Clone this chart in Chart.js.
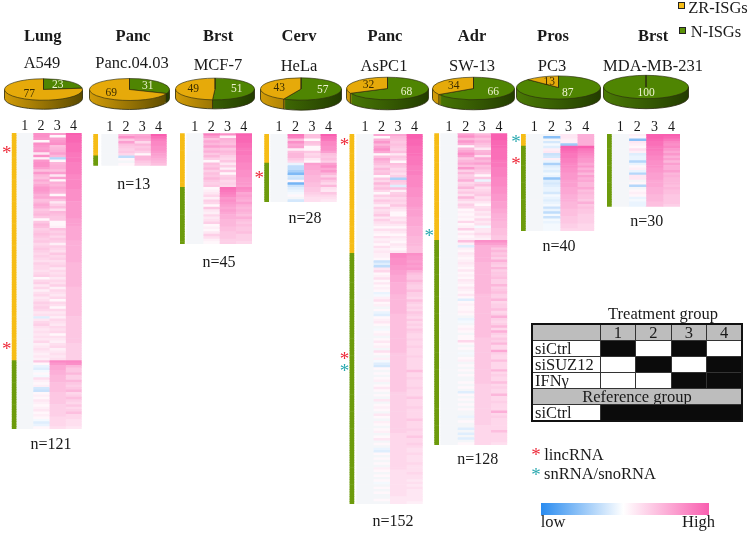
<!DOCTYPE html>
<html>
<head>
<meta charset="utf-8">
<title>ISG heatmaps</title>
<script src="https://cdn.jsdelivr.net/npm/chart.js@4"></script>
<style>
    html, body { margin: 0; padding: 0; background: #fff; }
    #page { position: relative; width: 750px; height: 533px; overflow: hidden; font-family: "Liberation Serif", serif; color: #1a1a1a; filter: blur(0.35px); }
    #page canvas { position: absolute; }
    .txt { position: absolute; white-space: nowrap; transform: translate(-50%, -50%); line-height: 1; }
    .swatch { position: absolute; width: 5px; height: 5px; border: 1px solid #222; }
    table { position: absolute; left: 531px; top: 323px; width: 212px; border-collapse: collapse; table-layout: fixed; font-size: 16.5px; line-height: 15px; border: 2px solid #111; }
    td { border: 1px solid #333; height: 15px; padding: 0 0 0 2px; overflow: hidden; white-space: nowrap; }
    .g { background: #bdbdbd; text-align: center; padding: 0; }
    .k { background: #0b0b0b; }
    .w { background: #fff; }
    #colorbar { position: absolute; left: 541px; top: 503px; width: 168px; height: 12px; background: linear-gradient(to right, #2a8cf0, #ffffff 49%, #f95fb0); }
</style>
</head>
<body>
<div id="page">
    <table>
        <colgroup><col style="width:68px"><col><col><col><col></colgroup>
        <tr><td class="g"></td><td class="g">1</td><td class="g">2</td><td class="g">3</td><td class="g">4</td></tr>
        <tr><td class="w">siCtrl</td><td class="k"></td><td class="w"></td><td class="k"></td><td class="w"></td></tr>
        <tr><td class="w">siSUZ12</td><td class="w"></td><td class="k"></td><td class="w"></td><td class="k"></td></tr>
        <tr><td class="w">IFNγ</td><td class="w"></td><td class="w"></td><td class="k"></td><td class="k"></td></tr>
        <tr><td class="g" colspan="5">Reference group</td></tr>
        <tr><td class="w">siCtrl</td><td class="k" colspan="4"></td></tr>
    </table>
    <div id="colorbar"></div>
</div>
<script>
const tissues = ["Lung", "Panc", "Brst", "Cerv", "Panc", "Adr", "Pros", "Brst"]
const cellLines = ["A549", "Panc.04.03", "MCF-7", "HeLa", "AsPC1", "SW-13", "PC3", "MDA-MB-231"]
const zrPct = [77, 69, 49, 43, 32, 34, 13, 0]
const nPct = [23, 31, 51, 57, 68, 66, 87, 100]
const geneCounts = [121, 13, 45, 28, 152, 128, 40, 30]
const zrCounts = [93, 9, 22, 12, 49, 44, 5, 0]
const colLabels = ["1", "2", "3", "4"]

// row numbers of the starred genes
const lincRows = [[7, 87], [], [], [17], [3, 91], [], [11], []]
const snoRows = [[], [], [], [], [96], [41], [2], []]

// heat values, -20 full blue .. 20 full pink, read row by row
const lung2 = [
    14,14,13,1,14,13,12,13,3,14, 2,13,14,14,12,8,13,9,8,11,
    9,11,13,13,12,10,11,8,9,11, 10,7,8,9,7,1,7,9,8,6,
    7,8,7,6,7,5,6,7,6,5, 6,5,4,6,5,5,4,5,6,1,
    5,6,3,5,2,4,5,3,4,6, 5,6,5,3,4,-3,3,5,6,4,
    3,4,3,4,3,5,2,3,4,3, 2,3,2,
    7,1,-2,-3,-1,1,-1,4,2,1, 2,-4,-5,1,2,1,3,2,1,2, 3,1,2,1,-1,-3,-2,1]
const lung3 = [
    12,1,12,13,14,8,9,10,12,9, -7,1,9,10,10,8,12,3,12,1,
    10,9,11,10,9,1,11,8,3,6, 8,4,9,8,7,7,1,1,2,8,
    6,7,5,7,6,2,6,5,4,7, 5,6,4,5,6,3,5,4,5,3,
    5,4,6,2,5,4,3,5,1,5, 4,1,5,3,4,2,5,4,3,5,
    4,5,1,4,3,2,4,5,2,3, 4,3,4,
    15,13,11,11,10,10,9,9,9,8, 8,8,8,7,7,7,7,7,6,6, 6,6,6,5,5,5,5,4]
const lung4 = [
    20,19,19,19,18,18,18,18,17,17, 17,17,16,16,16,16,16,15,15,15,
    15,15,15,14,14,14,14,14,13,13, 13,13,13,13,13,12,12,12,11,11,
    11,11,11,11,10,10,10,10,10,10, 10,10,10,9,9,9,9,9,9,9,
    9,9,9,8,8,8,8,8,8,8, 8,8,8,8,8,7,7,7,7,7,
    7,7,7,7,7,7,6,6,6,6, 6,6,6,
    15,14,9,7,7,9,6,6,9,7, 6,7,9,5,6,8,6,5,7,5, 6,8,5,5,4,4,4,3]

const panc2 = [10,14,7,12,8,7,6,7,5, -6,1,0,1]
const panc3 = [11,12,10,5,9,7,8,6,1, 9,9,7,6]
const panc4 = [20,18,16,15,15,14,14,13,12, 11,10,9,8]

const mcf2 = [
    16,12,8,11,9,12,8,10,7,9, 6,1,8,7,9,6,8,7,9,7, 6,7,
    1,2,3,5,2,6,5,1,7,3, 2,5,3,4,6,1,2,1,3,6, 4,2,1]
const mcf3 = [
    14,2,10,9,8,11,7,9,8,6, 5,7,3,6,2,7,1,6,7,5, 6,5,
    18,17,16,15,13,14,13,12,11,12, 11,10,10,9,9,9,8,8,7,7, 7,6,6]
const mcf4 = [
    20,19,19,19,18,18,17,17,17,16, 16,16,15,15,15,14,14,14,13,13, 13,12,
    15,14,11,12,11,10,12,10,9,10, 9,8,10,8,7,8,7,7,8,6, 6,6,5]

const hela2 = [17,16,8,14,11,12,2,8,9,9,7,5, -2,-6,-6,-8,-12,-4,-5,1,-13,-5,-3,-2,-1,1,0,-4]
const hela3 = [8,8,1,8,7,1,1,7,5,6,3,1, 12,11,11,10,10,9,9,9,8,8,7,7,6,5,4,4]
const hela4 = [20,18,17,15,15,14,14,12,8,7,8,6, 12,14,11,13,9,6,10,7,5,9,4,3,7,5,4,3]

const aspc2 = [
    11,1,10,13,9,12,14,11,1,8, 11,9,8,6,9,7,8,1,7,5,
    9,6,8,5,1,6,4,7,5,2, 6,4,5,7,3,6,4,3,1,4, 2,1,4,2,3,1,4,2,3,
    2,2,1,-5,-3,-6,3,5,1,2, 4,1,3,1,2,1,-2,-1,2,4,
    1,2,0,1,-2,-3,1,2,3,1, 0,-1,1,2,0,1,3,1,2,0,
    4,1,0,2,-1,-3,-4,1,0,1, 0,1,2,0,1,3,1,0,1,0,
    3,0,1,2,1,0,3,1,0,2, 1,0,1,2,0,1,3,0,1,0,
    -2,-3,1,0,1,0,1,0,2,1, 0,1,0,1,-1,0,1,0,1,0, 0,1,0]
const aspc3 = [
    11,9,8,7,8,7,6,8,3,7, 6,1,8,7,5,6,4,6,-8,7,
    6,-3,8,2,6,7,5,6,5,7, 4,3,1,1,4,3,5,3,1,4, 3,1,3,2,1,3,2,1,3,
    15,15,14,14,14,13,13,12,12,11, 11,11,10,10,10,10,10,9,9,9,
    9,9,9,9,9,8,8,8,8,8, 8,8,8,8,8,8,8,8,8,8,
    8,7,7,7,7,7,7,7,7,7, 7,7,7,7,7,7,7,6,6,6,
    6,6,6,6,6,6,6,6,6,6, 6,6,6,6,5,5,5,5,5,5,
    5,5,5,5,5,5,5,5,5,4, 4,4,4,4,4,4,4,4,4,4, 3,3,3]
const aspc4 = [
    20,20,19,19,19,18,18,18,18,17, 17,17,17,16,16,16,16,15,15,15,
    15,15,14,14,14,14,13,13,13,13, 12,12,12,12,11,11,11,11,10,10, 10,10,9,9,9,9,8,8,8,
    14,13,13,12,13,12,13,10,8,7, 7,9,7,6,6,8,6,6,5,8,
    6,5,6,5,7,6,5,7,5,6, 5,7,6,5,5,6,5,5,6,5,
    5,5,6,5,5,5,5,5,8,5, 5,6,5,5,5,6,5,5,5,7,
    5,5,5,6,5,5,5,5,7,5, 5,5,6,5,5,7,5,5,6,5,
    4,4,5,4,4,4,5,4,4,4, 5,4,4,3,4,3,4,3,3,3, 3,3,2]

const sw2 = [
    12,14,9,13,10,1,9,11,14,12, 7,9,11,8,13,6,9,6,7,10,
    5,6,9,5,7,4,9,5,3,6, 5,1,2,1,2,1,5,1,2,6, 1,3,1,2,
    8,2,-3,2,1,3,2,1,2,3, 2,1,3,1,2,1,3,2,1,3,
    2,1,3,1,-3,1,2,1,1,2, 1,0,-2,-1,0,1,2,1,0,1,
    1,5,1,0,1,0,-1,0,1,2, 0,1,0,1,0,1,0,0,1,0,
    1,0,-3,1,0,1,0,1,0,1, 0,0,-2,0,1,0,0,-3,0,-3, 0,-3,0,1]
const sw3 = [
    9,11,8,10,8,7,3,9,10,4, 11,9,12,8,9,7,6,1,7,-2,
    6,8,4,5,6,7,4,5,3,1, 4,5,3,4,2,5,3,4,-1,3, 3,5,3,2,
    14,12,10,10,10,10,10,10,10,9, 9,9,9,9,9,9,9,9,9,9,
    9,9,8,8,8,8,8,8,8,8, 8,8,8,8,8,8,8,8,8,8,
    7,7,7,7,7,7,7,7,7,7, 7,7,7,7,7,7,7,7,7,6,
    6,6,6,6,6,6,6,6,6,6, 6,6,6,6,6,6,5,5,5,5, 5,5,5,5]
const sw4 = [
    20,20,20,19,19,19,18,18,18,18, 18,17,17,17,16,16,16,16,15,15,
    15,15,14,14,14,13,13,13,12,12, 12,11,11,10,10,10,9,9,9,8, 8,8,7,7,
    14,12,10,7,9,7,8,6,10,7, 6,9,6,7,7,8,6,6,9,6,
    7,8,6,6,9,5,6,6,8,5, 6,10,6,5,6,9,5,10,6,5,
    7,6,9,5,5,11,6,5,5,8, 5,5,5,9,5,6,5,5,8,5,
    6,5,5,9,5,5,6,5,5,5, 10,5,6,5,5,5,5,5,8,5, 5,5,5,4]

const pc2 = [
    0,-11,0,-4,-1,
    -3,2,3,-5,-4,2,-2,-8,-3,-2, -3,-1,-2,-10,-3,-4,-3,-2,-2,-4,
    -1,-2,-3,-2,-1,-5,-2,-6,-1,-5, -1,-2,-1,-1,-1]
const pc3 = [
    3,3,2,2,-9,
    20,19,18,17,17,16,16,15,15,14, 14,13,13,13,12,12,12,11,11,11,
    10,10,10,9,9,9,8,8,8,7, 7,7,6,6,5]
const pc4 = [
    10,10,10,10,10,
    20,17,16,15,14,13,13,11,13,10, 12,9,12,10,11,9,9,11,8,9,
    8,8,7,10,7,8,7,7,6,6, 6,6,5,5,5]

const mda2 = [2,1,-11,3,2,1,4,2,-3,-2, -2,-7,-2,1,2,-2,-7,3,3,0, 1,-7,0,1,2,1,-2,-1,-2,-2]
const mda3 = [20,20,19,18,18,17,17,16,16,15, 15,14,14,14,13,13,12,12,12,11, 11,11,10,10,10,9,9,9,8,8]
const mda4 = [20,19,17,15,14,15,13,11,13,10, 12,9,12,10,10,12,9,10,9,9, 9,8,9,8,8,7,7,7,7,6]

const heatCols = [
    [lung2, lung3, lung4], [panc2, panc3, panc4], [mcf2, mcf3, mcf4], [hela2, hela3, hela4],
    [aspc2, aspc3, aspc4], [sw2, sw3, sw4], [pc2, pc3, pc4], [mda2, mda3, mda4]
]

// layout, px on the page
const pieCx = [43.5, 129.5, 215, 301, 387, 473, 558.5, 646]
const pieCy = [89, 89, 89, 88.5, 88, 88, 87, 87]
const pieR = [38.5, 39.5, 39, 40, 40.5, 40.5, 41.5, 42]
const pieDepth = [9, 9, 9, 10, 10, 10, 10, 10]
const pieSquash = 0.275
const tissueX = [42.7, 133, 218, 299, 385, 472, 553, 653]
const lineX = [42, 132, 218, 299, 384, 472, 552, 653]
const lineY = [63, 63, 65, 66, 66, 66, 66, 66]
const countX = [51, 133.7, 219, 305, 393, 477.7, 559, 646.7]
const countY = [444, 183.7, 262, 218, 520.7, 459, 245.7, 221]
const sideLeft = [11.7, 93.3, 180, 264.3, 349.5, 434.3, 521, 607]
const heatLeft = [16.7, 101.7, 186.7, 270.7, 356.7, 440.7, 525.7, 611.7]
const heatRight = [81.7, 166.7, 252, 336.7, 422.7, 507.3, 594.3, 680]
const heatTop = [133, 134, 133.3, 134, 134, 133.3, 134, 134]
const heatBottom = [429, 165.7, 244, 202, 504, 445, 231, 206.7]
const sideWidth = 4.4

const YELLOW = "#e6aa0a"
const GREEN = "#4f8502"
const SIDE_YELLOW = "#f6bd16"
const SIDE_GREEN = "#6d9b0c"
const RED_STAR = "#ee2a3a"
const TEAL_STAR = "#2aa9b0"
const BASE_CELL = "#f4f6f9"

const page = document.getElementById("page")

const addText = (text, x, y, size, opts = {}) => {
    const el = document.createElement("div")
    el.className = "txt"
    el.textContent = text
    el.style.left = x + "px"
    el.style.top = y + "px"
    el.style.fontSize = size + "px"
    if (opts.bold) el.style.fontWeight = "bold"
    if (opts.color) el.style.color = opts.color
    page.appendChild(el)
}

const addCanvas = (left, top, w, h) => {
    const c = document.createElement("canvas")
    c.width = w
    c.height = h
    c.style.left = left + "px"
    c.style.top = top + "px"
    c.style.width = w + "px"
    c.style.height = h + "px"
    page.appendChild(c)
    return c
}

// -20..20 to a colour: blue, white, pink
const heatColor = (s) => {
    if (s === 0) return BASE_CELL
    const t = Math.min(Math.abs(s) / 20, 1)
    const end = s > 0 ? [249, 95, 176] : [42, 140, 240]
    const c = end.map(v => Math.round(255 + (v - 255) * t))
    return `rgb(${c[0]},${c[1]},${c[2]})`
}

// flattened 3d look: squash the pie and draw a rim under it
const piePlugin = {
    id: "pie3d",
    beforeDatasetsDraw(chart, args, opts) {
        const ctx = chart.ctx
        const arcs = chart.getDatasetMeta(0).data
        const { x: cx, y: cy, outerRadius: R } = arcs[0]
        const k = opts.squash
        const rim = (dark, light) => {
            const g = ctx.createLinearGradient(-R, 0, R, 0)
            g.addColorStop(0, light)
            g.addColorStop(1, dark)
            return g
        }
        for (let d = opts.depth; d >= 1; d--) {
            arcs.forEach((arc, i) => {
                if (arc.endAngle - arc.startAngle <= 0) return
                ctx.save()
                ctx.translate(cx, cy + d)
                ctx.scale(1, k)
                ctx.fillStyle = i == 0 ? rim("#233d00", "#4a7a05") : rim("#5a4a00", "#d39c08")
                ctx.beginPath()
                ctx.moveTo(0, 0)
                ctx.arc(0, 0, R, arc.startAngle, arc.endAngle)
                ctx.closePath()
                ctx.fill()
                ctx.restore()
            })
        }
        // rim outline
        ctx.save()
        ctx.strokeStyle = "#2b2b10"
        ctx.lineWidth = 0.8
        ctx.beginPath()
        ctx.ellipse(cx, cy + opts.depth, R, R * k, 0, 0, Math.PI)
        ctx.moveTo(cx - R, cy)
        ctx.lineTo(cx - R, cy + opts.depth)
        ctx.moveTo(cx + R, cy)
        ctx.lineTo(cx + R, cy + opts.depth)
        arcs.forEach(arc => {
            const s = Math.sin(arc.endAngle)
            if (s > 0 && arc.endAngle - arc.startAngle > 0 && arc.endAngle < 1.4 * Math.PI) {
                const x = cx + R * Math.cos(arc.endAngle)
                const y = cy + R * k * s
                ctx.moveTo(x, y)
                ctx.lineTo(x, y + opts.depth)
            }
        })
        ctx.stroke()
        ctx.restore()

        ctx.save()
        ctx.translate(cx, cy)
        ctx.scale(1, k)
        ctx.translate(-cx, -cy)
    },
    afterDatasetsDraw(chart, args, opts) {
        const ctx = chart.ctx
        ctx.restore()
        const arcs = chart.getDatasetMeta(0).data
        const { x: cx, y: cy, outerRadius: R } = arcs[0]
        const k = opts.squash
        ctx.save()
        ctx.strokeStyle = "#2b2b10"
        ctx.lineWidth = 0.8
        ctx.beginPath()
        ctx.moveTo(cx, cy)
        ctx.lineTo(cx, cy - R * k)
        ctx.stroke()
        ctx.font = '11.5px "Liberation Serif"'
        ctx.textAlign = "center"
        ctx.textBaseline = "middle"
        const values = chart.data.datasets[0].data
        arcs.forEach((arc, i) => {
            if (values[i] == 0) return
            const mid = (arc.startAngle + arc.endAngle) / 2
            ctx.fillStyle = i == 0 ? "#eef3d2" : "#3a2c00"
            ctx.fillText(values[i], cx + 0.55 * R * Math.cos(mid), cy + 0.55 * R * k * Math.sin(mid))
        })
        ctx.restore()
    }
}

const starPlugin = {
    id: "stars",
    afterDatasetsDraw(chart, args, opts) {
        const ctx = chart.ctx
        const y = chart.scales.y
        ctx.save()
        ctx.font = '19px "Liberation Serif"'
        ctx.textAlign = "center"
        ctx.textBaseline = "middle"
        const draw = (rows, color) => rows.forEach(r => {
            ctx.fillStyle = color
            ctx.fillText("*", opts.x, y.getPixelForValue(r) + 3)
        })
        draw(opts.linc, RED_STAR)
        draw(opts.sno, TEAL_STAR)
        ctx.restore()
    }
}

const addPie = (i) => {
    const R = pieR[i]
    const size = Math.ceil(2 * R) + 2
    const left = Math.round(pieCx[i] - size / 2)
    const top = Math.round(pieCy[i] - size / 2)
    new Chart(addCanvas(left, top, size, size), {
        type: "pie",
        data: {
            labels: ["N-ISGs", "ZR-ISGs"],
            datasets: [{
                data: [nPct[i], zrPct[i]],
                backgroundColor: [GREEN, YELLOW],
                borderColor: "#2b2b10",
                borderWidth: 1
            }]
        },
        options: {
            responsive: false,
            animation: false,
            plugins: {
                legend: { display: false },
                tooltip: { enabled: false },
                pie3d: { squash: pieSquash, depth: pieDepth[i] }
            }
        },
        plugins: [piePlugin]
    })
}

const addHeatmap = (i) => {
    const cols = heatCols[i]
    const rows = geneCounts[i]
    const zr = zrCounts[i]
    const labels = Array.from(Array(rows).keys())

    const left = Math.floor(sideLeft[i]) - 12
    const right = Math.ceil(heatRight[i]) + 1
    const top = Math.round(heatTop[i]) - 18
    const bottom = Math.ceil(heatBottom[i]) + 1
    const cellW = (heatRight[i] - heatLeft[i]) / 4
    const gapW = heatLeft[i] - sideLeft[i] - sideWidth
    const centers = colLabels.map((_, c) => sideWidth + gapW + cellW * (c + 0.5))

    const cellSet = (values) => ({
        data: labels.map(() => cellW),
        backgroundColor: values.map(heatColor),
        borderWidth: 0
    })

    new Chart(addCanvas(left, top, right - left, bottom - top), {
        type: "bar",
        data: {
            labels: labels,
            datasets: [
                {
                    data: labels.map(() => sideWidth),
                    backgroundColor: labels.map(r => r < zr ? SIDE_YELLOW : SIDE_GREEN),
                    borderWidth: 0
                },
                { data: labels.map(() => gapW), backgroundColor: "rgba(0,0,0,0)", borderWidth: 0 },
                cellSet(labels.map(() => 0)),
                cellSet(cols[0]),
                cellSet(cols[1]),
                cellSet(cols[2])
            ]
        },
        options: {
            indexAxis: "y",
            responsive: false,
            animation: false,
            barPercentage: 1,
            categoryPercentage: 1,
            layout: {
                padding: {
                    left: sideLeft[i] - left,
                    right: right - heatRight[i],
                    top: 0,
                    bottom: bottom - heatBottom[i]
                }
            },
            scales: {
                x: {
                    stacked: true,
                    position: "top",
                    min: 0,
                    max: sideWidth + gapW + cellW * 4,
                    grid: { display: false, drawTicks: false },
                    border: { display: false },
                    ticks: {
                        autoSkip: false,
                        maxRotation: 0,
                        padding: -2,
                        color: "#1a1a1a",
                        font: { family: "Liberation Serif", size: 14 },
                        callback: (v, idx) => colLabels[idx]
                    },
                    afterBuildTicks: (scale) => { scale.ticks = centers.map(v => ({ value: v })) },
                    afterFit: (scale) => { scale.height = 18 + heatTop[i] - Math.round(heatTop[i]) }
                },
                y: { stacked: true, display: false }
            },
            plugins: {
                legend: { display: false },
                tooltip: { enabled: false },
                stars: { x: sideLeft[i] - left - 5, linc: lincRows[i], sno: snoRows[i] }
            }
        },
        plugins: [starPlugin]
    })
}

tissues.forEach((name, i) => {
    addText(name, tissueX[i], 36, 16.5, { bold: true })
    addText(cellLines[i], lineX[i], lineY[i], 16.5)
    addText(`n=${geneCounts[i]}`, countX[i], countY[i], 16)
    addPie(i)
    addHeatmap(i)
})

// legends and the small labels round the table
const addSwatch = (x, y, color) => {
    const el = document.createElement("div")
    el.className = "swatch"
    el.style.left = x + "px"
    el.style.top = y + "px"
    el.style.background = color
    page.appendChild(el)
}
addSwatch(678, 2, "#f6bd16")
addSwatch(679, 27, "#5b9208")
addText("ZR-ISGs", 718, 8, 16.5)
addText("N-ISGs", 716, 31.5, 16.5)
addText("Treatment group", 663, 314, 16.5)
addText("*", 536, 454, 19, { color: RED_STAR })
addText("lincRNA", 574, 455, 16.5)
addText("*", 536, 474, 19, { color: TEAL_STAR })
addText("snRNA/snoRNA", 600, 474, 16.5)
addText("low", 553, 521.5, 16.5)
addText("High", 698.5, 521.5, 16.5)
</script>
</body>
</html>
